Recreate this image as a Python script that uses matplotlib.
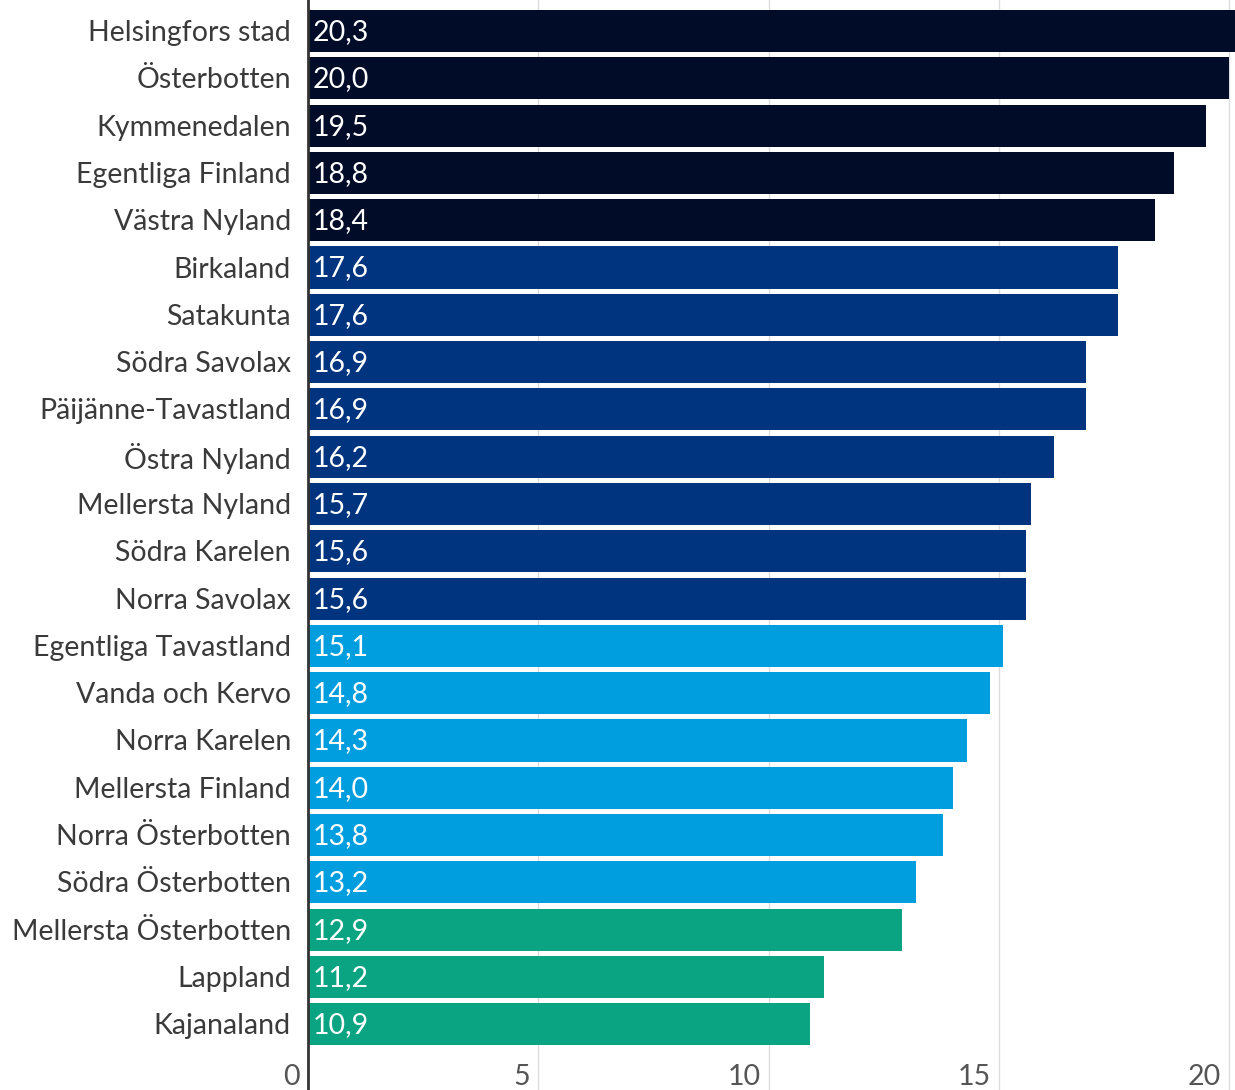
import matplotlib.pyplot as plt
from matplotlib.transforms import offset_copy

plt.rcParams['font.family'] = ['Lato', 'DejaVu Sans']

regions = ['Helsingfors stad', 'Österbotten', 'Kymmenedalen', 'Egentliga Finland',
           'Västra Nyland', 'Birkaland', 'Satakunta', 'Södra Savolax',
           'Päijänne-Tavastland', 'Östra Nyland', 'Mellersta Nyland', 'Södra Karelen',
           'Norra Savolax', 'Egentliga Tavastland', 'Vanda och Kervo', 'Norra Karelen',
           'Mellersta Finland', 'Norra Österbotten', 'Södra Österbotten',
           'Mellersta Österbotten', 'Lappland', 'Kajanaland']
values = [20.3, 20.0, 19.5, 18.8, 18.4, 17.6, 17.6, 16.9, 16.9, 16.2, 15.7, 15.6,
          15.6, 15.1, 14.8, 14.3, 14.0, 13.8, 13.2, 12.9, 11.2, 10.9]
groups = [0] * 5 + [1] * 8 + [2] * 6 + [3] * 3
palette = ['#000c28', '#00347f', '#009ddf', '#0aa482']
xticks = [0, 5, 10, 15, 20]

fig = plt.figure(figsize=(12.35, 10.9), dpi=100)
ax = fig.add_axes([308 / 1235, 0, 927 / 1235, 1])

y = list(range(len(regions)))
colors = [palette[g] for g in groups]
ax.barh(y, values, height=0.89, color=colors, zorder=2)

ax.set_xlim(0, 20.13)
ax.set_ylim(22.39, -0.656)

for t in xticks[1:]:
    ax.axvline(t, color='#dddddd', lw=1, zorder=1)

fs = 20.5

# value labels inside bars
tr = offset_copy(ax.transData, fig=fig, x=5, y=-1, units='dots')
for i, v in enumerate(values):
    ax.text(0, i, f'{v:.1f}'.replace('.', ','), transform=tr, color='white',
            fontsize=fs, va='center', ha='left', zorder=3)

# category labels
trl = offset_copy(ax.transData, fig=fig, x=-17, y=-2, units='dots')
for i, r in enumerate(regions):
    ax.text(0, i, r, transform=trl, color='#3a3a3a', fontsize=fs,
            va='center', ha='right', clip_on=False)

# x tick labels at bottom, right-aligned to gridlines
trt = offset_copy(ax.transData, fig=fig, x=-8, y=-2, units='dots')
for t in xticks:
    ax.text(t, 22.07, str(t), transform=trt, color='#555555', fontsize=fs,
            va='center', ha='right', clip_on=False)

ax.set_xticks([])
ax.set_yticks([])
for s in ['top', 'right', 'bottom']:
    ax.spines[s].set_visible(False)
ax.spines['left'].set_color('#333333')
ax.spines['left'].set_linewidth(2)

fig.savefig('out.png', dpi=100)
